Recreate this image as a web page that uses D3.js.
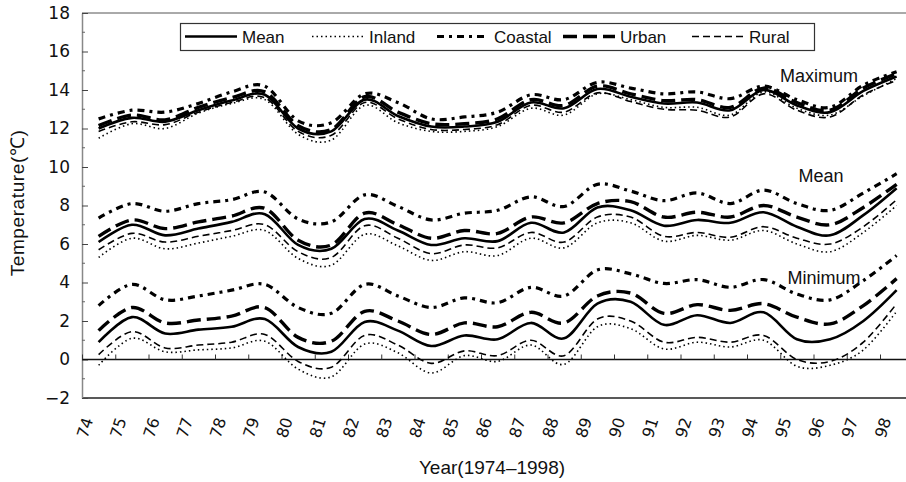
<!DOCTYPE html>
<html lang="en">
<head>
  <meta charset="UTF-8">
  <title>Temperature 1974-1998</title>
  <script src="https://d3js.org/d3.v7.min.js"></script>
  <style>
    body { margin: 0; background: #fff; }
    text { font-family: "Liberation Sans", Arial, sans-serif; fill: #111; }
    text.num { font-family: "DejaVu Sans", sans-serif; }
  </style>
</head>
<body>
  <svg id="chart" width="906" height="482"></svg>

  <script>
    // data: annual values, plotted between the year ticks (74.5 ... 98.5)
    const years = d3.range(74.5, 99, 1);
    const tickYears = d3.range(74, 99);

    const maxMean    = [12.0, 12.55, 12.35, 12.95, 13.45, 13.75, 12.0, 11.85, 13.5, 12.65, 12.1, 12.1, 12.35, 13.35, 13.05, 14.05, 13.65, 13.3, 13.35, 12.95, 14.0, 13.2, 12.85, 13.95, 14.7];
    const maxInland  = [11.5, 12.25, 12.0, 12.8, 13.3, 13.5, 11.7, 11.4, 13.2, 12.3, 11.85, 11.85, 12.1, 13.05, 12.7, 13.8, 13.5, 13.1, 13.1, 12.7, 13.9, 13.05, 12.7, 13.7, 14.6];
    const maxCoastal = [12.5, 12.95, 12.85, 13.3, 13.9, 14.2, 12.4, 12.3, 13.8, 13.35, 12.5, 12.6, 12.85, 13.75, 13.5, 14.4, 14.1, 13.8, 13.9, 13.55, 14.2, 13.5, 13.1, 14.25, 14.95];
    const maxUrban   = [12.15, 12.7, 12.45, 13.1, 13.6, 13.9, 12.15, 11.95, 13.65, 12.85, 12.25, 12.25, 12.5, 13.5, 13.2, 14.2, 13.8, 13.45, 13.5, 13.1, 14.1, 13.35, 12.95, 14.1, 14.85];
    const maxRural   = [11.85, 12.35, 12.2, 12.85, 13.35, 13.6, 11.85, 11.65, 13.35, 12.5, 11.95, 11.95, 12.2, 13.2, 12.85, 13.85, 13.4, 13.0, 12.95, 12.6, 13.8, 12.95, 12.6, 13.75, 14.5];

    const meanMean    = [6.1, 7.0, 6.45, 6.8, 7.15, 7.55, 5.95, 5.75, 7.3, 6.7, 5.95, 6.3, 6.15, 7.1, 6.6, 7.9, 7.75, 6.95, 7.25, 7.1, 7.65, 6.9, 6.45, 7.5, 8.9];
    const meanInland  = [5.3, 6.3, 5.75, 6.05, 6.4, 6.7, 5.25, 4.9, 6.5, 5.9, 5.15, 5.6, 5.4, 6.3, 5.8, 7.1, 7.1, 6.15, 6.45, 6.2, 6.7, 6.0, 5.6, 6.6, 8.0];
    const meanCoastal = [7.35, 8.1, 7.7, 8.1, 8.3, 8.7, 7.3, 7.15, 8.55, 7.95, 7.25, 7.6, 7.75, 8.45, 7.95, 9.1, 8.75, 8.25, 8.65, 8.1, 8.8, 8.1, 7.75, 8.65, 9.65];
    const meanUrban   = [6.4, 7.25, 6.8, 7.15, 7.45, 7.85, 6.2, 5.95, 7.6, 7.0, 6.3, 6.7, 6.55, 7.4, 7.1, 8.1, 8.2, 7.4, 7.65, 7.4, 8.0, 7.4, 7.0, 7.9, 9.1];
    const meanRural   = [5.7, 6.55, 6.1, 6.4, 6.7, 7.0, 5.6, 5.3, 6.95, 6.3, 5.5, 5.95, 5.8, 6.6, 6.1, 7.4, 7.4, 6.4, 6.6, 6.35, 6.9, 6.3, 6.0, 6.9, 8.3];

    const minMean    = [0.9, 2.2, 1.35, 1.55, 1.7, 2.1, 0.65, 0.4, 1.95, 1.5, 0.7, 1.25, 1.05, 1.9, 1.1, 2.9, 3.0, 1.8, 2.3, 1.9, 2.45, 1.05, 1.05, 2.0, 3.6];
    const minInland  = [-0.3, 1.1, 0.4, 0.5, 0.6, 0.95, -0.5, -0.9, 0.8, 0.35, -0.7, 0.2, -0.1, 0.75, -0.25, 1.7, 1.6, 0.55, 0.9, 0.65, 1.0, -0.35, -0.3, 0.5, 2.5];
    const minCoastal = [2.8, 3.9, 3.1, 3.3, 3.6, 3.9, 2.7, 2.4, 3.9, 3.3, 2.7, 3.2, 2.95, 3.75, 3.3, 4.65, 4.45, 3.95, 4.15, 3.75, 4.15, 3.4, 3.1, 4.1, 5.4];
    const minUrban   = [1.5, 2.7, 1.9, 2.05, 2.25, 2.7, 1.15, 0.95, 2.5, 2.0, 1.3, 1.9, 1.7, 2.45, 1.9, 3.3, 3.45, 2.4, 2.85, 2.55, 2.9, 2.2, 1.85, 2.8, 4.2];
    const minRural   = [0.25, 1.45, 0.6, 0.75, 0.9, 1.3, -0.1, -0.4, 1.25, 0.75, -0.2, 0.45, 0.2, 1.0, 0.2, 2.1, 2.0, 0.9, 1.15, 0.9, 1.25, 0.0, -0.1, 0.9, 2.9];

    const seriesNames = ["Mean", "Inland", "Coastal", "Urban", "Rural"];

    const styles = {
      Mean:    { width: 2.6, dash: null },
      Inland:  { width: 1.6, dash: "1.5,3" },
      Coastal: { width: 3.2, dash: "7,5,3,5" },
      Urban:   { width: 3.4, dash: "14,6" },
      Rural:   { width: 1.6, dash: "7,4" }
    };

    const groups = [
      { label: "Maximum", lines: [maxMean, maxInland, maxCoastal, maxUrban, maxRural], lx: 819, ly: 82 },
      { label: "Mean", lines: [meanMean, meanInland, meanCoastal, meanUrban, meanRural], lx: 821, ly: 182 },
      { label: "Minimum", lines: [minMean, minInland, minCoastal, minUrban, minRural], lx: 824, ly: 284 }
    ];

    const svg = d3.select("#chart");
    const plotLeft = 82, plotTop = 13, plotBottom = 398;

    const x = d3.scaleLinear().domain([74, 99]).range([plotLeft, plotLeft + 25 * 33.25]);
    const y = d3.scaleLinear().domain([-2, 18]).range([plotBottom, plotTop]);

    // frame
    svg.append("line").attr("x1", plotLeft).attr("x2", 906).attr("y1", plotTop).attr("y2", plotTop)
      .attr("stroke", "#555").attr("stroke-width", 1);
    svg.append("line").attr("x1", plotLeft).attr("x2", 906).attr("y1", plotBottom).attr("y2", plotBottom)
      .attr("stroke", "#222").attr("stroke-width", 1.5);

    // y axis, ticks pointing inward
    const yAxis = svg.append("g").attr("transform", `translate(${plotLeft},0)`)
      .call(d3.axisLeft(y).tickValues(d3.range(-2, 19, 2)).tickSizeInner(-6).tickSizeOuter(0).tickPadding(12));
    yAxis.select(".domain").attr("stroke", "#888").attr("stroke-width", 1.5);
    yAxis.selectAll(".tick line").attr("stroke", "#444");
    yAxis.selectAll(".tick text").attr("class", "num").attr("font-size", 17).attr("fill", "#111")
      .text(d => d < 0 ? "\u2212" + Math.abs(d) : d);
    svg.append("g").selectAll("line").data(d3.range(-1, 18, 2)).join("line")
      .attr("x1", plotLeft).attr("x2", plotLeft + 3).attr("y1", d => y(d)).attr("y2", d => y(d))
      .attr("stroke", "#666");

    // zero line with year ticks
    const xAxis = svg.append("g").attr("transform", `translate(0,${y(0)})`)
      .call(d3.axisBottom(x).tickValues(tickYears).tickSizeInner(-5).tickSizeOuter(0).tickFormat(""));
    xAxis.select(".domain").attr("d", `M${plotLeft},0H906`).attr("stroke", "#111").attr("stroke-width", 1.5);
    xAxis.selectAll(".tick line").attr("stroke", "#333");

    // rotated year labels
    svg.append("g").selectAll("text").data(tickYears).join("text")
      .attr("class", "num")
      .attr("transform", d => `translate(${x(d) + 4},428) rotate(-72)`)
      .attr("text-anchor", "middle").attr("dominant-baseline", "middle")
      .attr("font-size", 16)
      .text(d => d);

    // lines
    const line = d3.line()
      .x((d, i) => x(years[i]))
      .y(d => y(d))
      .curve(d3.curveCatmullRom.alpha(0));

    groups.forEach(g => {
      g.lines.forEach((vals, i) => {
        const st = styles[seriesNames[i]];
        svg.append("path").datum(vals)
          .attr("d", line)
          .attr("fill", "none")
          .attr("stroke", "#000")
          .attr("stroke-width", st.width)
          .attr("stroke-dasharray", st.dash);
      });
      svg.append("text").attr("x", g.lx).attr("y", g.ly)
        .attr("text-anchor", "middle").attr("font-size", 18).text(g.label);
    });

    // legend
    const legend = svg.append("g");
    legend.append("rect").attr("x", 180.5).attr("y", 23.5).attr("width", 634).attr("height", 27)
      .attr("fill", "#fff").attr("stroke", "#333").attr("stroke-width", 1.2);
    const legendX = [185, 312, 437, 563, 692];
    seriesNames.forEach((name, i) => {
      const st = styles[name];
      legend.append("line")
        .attr("x1", legendX[i]).attr("x2", legendX[i] + 52).attr("y1", 36.5).attr("y2", 36.5)
        .attr("stroke", "#000").attr("stroke-width", st.width).attr("stroke-dasharray", st.dash);
      legend.append("text").attr("x", legendX[i] + 57).attr("y", 42.5)
        .attr("font-size", 17).text(name);
    });

    // axis titles
    svg.append("text").attr("transform", "translate(24,203) rotate(-90)")
      .attr("text-anchor", "middle").attr("font-size", 19).attr("letter-spacing", 0.6)
      .text("Temperature(\u2103)");
    svg.append("text").attr("x", 492).attr("y", 474)
      .attr("text-anchor", "middle").attr("font-size", 19).text("Year(1974\u20131998)");
  </script>
</body>
</html>
